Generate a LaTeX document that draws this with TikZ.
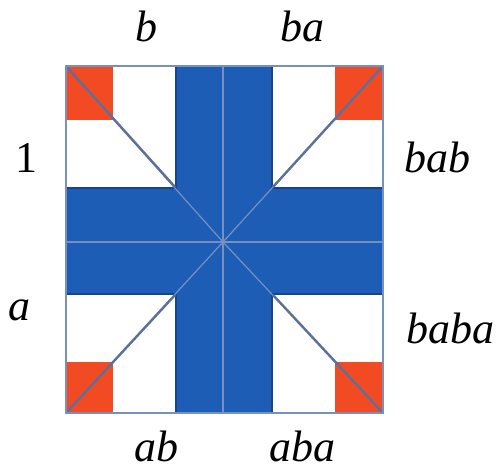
\documentclass[tikz,border=0pt]{standalone}
\usepackage{fontspec}
\setmainfont{Liberation Serif}
\definecolor{qblue}{HTML}{1E5DB5}
\definecolor{qred}{HTML}{F24A22}
\definecolor{qline}{HTML}{7790C0}
\definecolor{qdiag}{HTML}{5C709C}
\definecolor{qshadow}{HTML}{17448F}
\tikzset{
  lbl/.style={anchor=base, font=\fontsize{44}{48}\selectfont\itshape, inner sep=0pt},
  lblup/.style={anchor=base, font=\fontsize{44}{48}\selectfont, inner sep=0pt},
  whitesq/.style={fill=white},
  redsq/.style={fill=qred},
  thinline/.style={draw=qline, line width=1.2pt},
  diagline/.style={draw=qdiag, line width=2.4pt},
}
\begin{document}
\begin{tikzpicture}[x=1pt,y=-1pt]
\useasboundingbox (0,0) rectangle (500,470);
% main square
\fill[qblue] (66,66) rectangle (383,413);
% white squares with shadow edges
\fill[qshadow] (66,66) rectangle (177,189);
\fill[whitesq] (66,66) rectangle (175,187);
\fill[qshadow] (271,66) rectangle (383,189);
\fill[whitesq] (273,66) rectangle (383,187);
\fill[qshadow] (66,293) rectangle (177,413);
\fill[whitesq] (66,295) rectangle (175,413);
\fill[qshadow] (271,293) rectangle (383,413);
\fill[whitesq] (273,295) rectangle (383,413);
% red corners
\fill[redsq] (66,66) rectangle (113,120);
\fill[redsq] (335,66) rectangle (383,120);
\fill[redsq] (66,362) rectangle (113,413);
\fill[redsq] (335,362) rectangle (383,413);
% center lines
\coordinate (c) at (223,242);
\coordinate (tl) at (66,66);
\coordinate (tr) at (383,66);
\coordinate (bl) at (66,413);
\coordinate (br) at (383,413);
\draw[thinline] (223,66) -- (223,413);
\draw[thinline] (66,242) -- (383,242);
\draw[thinline] (tl) -- (c) -- (tr);
\draw[thinline] (bl) -- (c) -- (br);
% thick diagonals in white squares
\draw[diagline] (tl) -- (175,187);
\draw[diagline] (tr) -- (273,187);
\draw[diagline] (bl) -- (175,295);
\draw[diagline] (br) -- (273,295);
% border
\draw[draw=qline, line width=1.2pt] (tl) rectangle (br);
% labels
\node[lbl] (lb) at (146,42) {b};
\node[lbl] (lba) at (302,42) {ba};
\node[lblup] (l1) at (26,173) {1};
\node[lbl] (lbab) at (437,173) {bab};
\node[lbl] (la) at (20,320) {a};
\node[lbl] (lbaba) at (450,343) {baba};
\node[lbl] (lab) at (156,461) {ab};
\node[lbl] (laba) at (302,461) {aba};
\end{tikzpicture}
\end{document}
